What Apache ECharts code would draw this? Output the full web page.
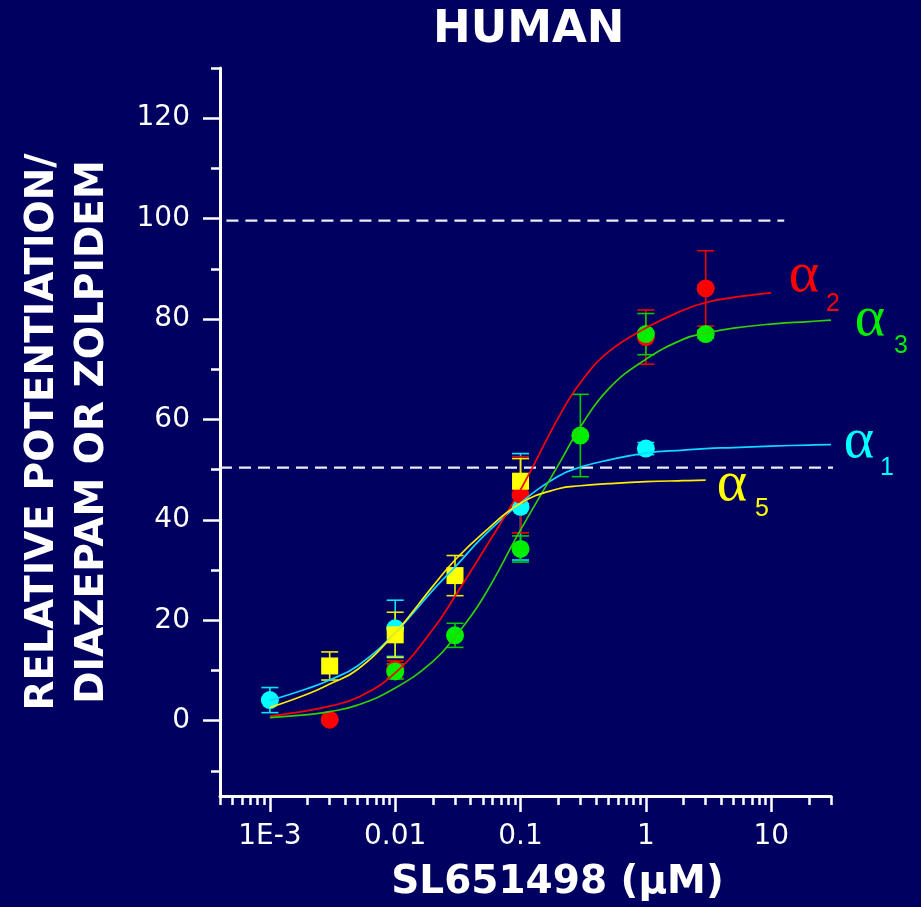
<!DOCTYPE html>
<html>
<head>
<meta charset="utf-8">
<title>HUMAN</title>
<script src="https://cdn.jsdelivr.net/npm/echarts@6/dist/echarts.min.js"></script>
<style>
html, body { margin: 0; padding: 0; background: #000060; }
#chart { width: 921px; height: 907px; }
</style>
</head>
<body>
<div id="chart"></div>
<script>
// measured points (SL651498 conc in uM, mean, s.e.m.)
var a1Conc = [0.001, 0.01, 0.1, 1];
var a1Mean = [4.1, 18.4, 42.6, 54.2];
var a1Err  = [2.5, 5.6, 10.6, 1.2];

var a2Conc = [0.003, 0.01, 0.1, 1, 3];
var a2Mean = [0.2, 10.2, 45.0, 76.4, 86.1];
var a2Err  = [0, 1.7, 7.6, 5.4, 7.5];

var a3Conc = [0.01, 0.03, 0.1, 0.3, 1, 3];
var a3Mean = [9.8, 17.0, 34.2, 56.8, 77.0, 77.0];
var a3Err  = [1.5, 2.4, 2.6, 8.2, 4.1, 0.8];

var a5Conc = [0.003, 0.01, 0.03, 0.1];
var a5Mean = [10.9, 17.1, 28.9, 47.7];
var a5Err  = [2.8, 4.5, 4.0, 4.5];

// fitted curves
var fitConc = [0.001, 0.002, 0.003, 0.005, 0.01, 0.02, 0.03, 0.05, 0.1, 0.2, 0.3, 0.5, 1, 2, 3, 5, 10, 20, 30];
var a1Fit = [4.0, 6.4, 8.1, 10.9, 17.5, 26.0, 30.6, 36.6, 43.4, 48.7, 50.5, 51.9, 53.3, 53.9, 54.2, 54.4, 54.7, 54.9, 55.0];
var a2Fit = [0.9, 2.0, 2.9, 4.6, 9.5, 18.2, 24.8, 33.6, 46.0, 60.3, 67.3, 73.4, 78.2, 81.8, 83.3, 84.3, 85.2];
var a3Fit = [0.6, 1.2, 1.8, 3.1, 6.5, 11.8, 16.7, 24.4, 38.0, 50.9, 58.5, 66.0, 72.0, 76.0, 77.2, 78.2, 79.0, 79.5, 79.8];
var a5Fit = [2.6, 5.3, 7.3, 10.2, 17.5, 26.8, 32.0, 37.3, 43.3, 46.2, 46.8, 47.2, 47.6, 47.8, 47.9];

// dashed reference levels
var ref100 = { conc: [0.00045, 12.7], level: 99.6 };
var ref50  = { conc: [0.0004, 68], level: 50.4 };

// axis ticks
var xMajorTicks = [0.001, 0.01, 0.1, 1, 10];
var xTickLabels = ['1E-3', '0.01', '0.1', '1', '10'];
var xMinorTicks = [0.0004, 0.0005, 0.0006, 0.0007, 0.0008, 0.0009,
    0.002, 0.003, 0.004, 0.005, 0.006, 0.007, 0.008, 0.009,
    0.02, 0.03, 0.04, 0.05, 0.06, 0.07, 0.08, 0.09,
    0.2, 0.3, 0.4, 0.5, 0.6, 0.7, 0.8, 0.9,
    2, 3, 4, 5, 6, 7, 8, 9, 20, 30];
var yMajorTicks = [0, 20, 40, 60, 80, 100, 120];
var yMinorTicks = [-10, 10, 30, 50, 70, 90, 110, 130];

var subtypes = ['1', '2', '3', '5'];

function pairs(xs, ys) {
    return xs.map(function (x, i) { return [x, ys[i]]; }).filter(function (p) { return p[1] != null; });
}
function bars(xs, ys, es) {
    return xs.map(function (x, i) { return [x, ys[i] - es[i], ys[i] + es[i]]; });
}

var white = '#ffffff';
var fontNum = 'DejaVu Sans';

function errorBar(params, api) {
    var x = api.value(0);
    var lo = api.coord([x, api.value(1)]);
    var hi = api.coord([x, api.value(2)]);
    var half = 8.5;
    var style = { stroke: api.visual('color'), lineWidth: 1.6 };
    return {
        type: 'group',
        children: [
            { type: 'line', shape: { x1: hi[0], y1: hi[1], x2: lo[0], y2: lo[1] }, style: style },
            { type: 'line', shape: { x1: hi[0] - half, y1: hi[1], x2: hi[0] + half, y2: hi[1] }, style: style },
            { type: 'line', shape: { x1: lo[0] - half, y1: lo[1], x2: lo[0] + half, y2: lo[1] }, style: style }
        ]
    };
}

function fitLine(name, data, color) {
    return {
        name: name, type: 'line', data: data, smooth: 0.45,
        symbol: 'none', silent: true,
        lineStyle: { color: color, width: 1.7 }
    };
}
function errSeries(name, data, color) {
    return {
        name: name, type: 'custom', renderItem: errorBar, data: data,
        encode: { x: 0, y: [1, 2] }, itemStyle: { color: color }, silent: true
    };
}
function pointSeries(name, data, color, symbol, size) {
    return {
        name: name, type: 'scatter', data: data, symbol: symbol, symbolSize: size,
        itemStyle: { color: color, opacity: 1 }
    };
}
function refLine(ref) {
    return {
        type: 'line', data: ref.conc.map(function (c) { return [c, ref.level]; }),
        symbol: 'none', silent: true, clip: false,
        lineStyle: { color: '#ececf8', width: 2.2, type: [12, 7] }
    };
}

function label(text, x, y, color, size, family) {
    return {
        type: 'text', x: x, y: y,
        style: { text: text, fill: color, font: size + 'px "' + family + '"', textAlign: 'center', textVerticalAlign: 'middle' }
    };
}

var chart = echarts.init(document.getElementById('chart'));
var option = {
    backgroundColor: '#000060',
    animation: false,
    title: {
        text: 'HUMAN', left: 433, top: 8, padding: 0,
        textStyle: { color: white, fontFamily: fontNum, fontWeight: 'bold', fontSize: 45 }
    },
    grid: { left: 220, right: 90, top: 68, bottom: 109, containLabel: false },
    xAxis: [
        {
            type: 'log', logBase: 10, min: 0.0004, max: 30, position: 'bottom',
            name: 'SL651498 (μM)', nameLocation: 'middle', nameGap: 67,
            nameTextStyle: { color: white, fontFamily: fontNum, fontWeight: 'bold', fontSize: 39, padding: [0, 0, 0, 64] },
            axisLine: { onZero: false, lineStyle: { color: white, width: 3 } },
            axisTick: { customValues: xMajorTicks, length: 16, lineStyle: { color: white, width: 2.5 } },
            axisLabel: {
                customValues: xMajorTicks, color: white, fontFamily: fontNum, fontSize: 28, margin: 27,
                formatter: function (v) {
                    var best = 0;
                    xMajorTicks.forEach(function (t, i) {
                        if (Math.abs(Math.log10(t) - Math.log10(v)) < Math.abs(Math.log10(xMajorTicks[best]) - Math.log10(v))) best = i;
                    });
                    return xTickLabels[best];
                }
            },
            splitLine: { show: false }
        },
        {
            type: 'log', logBase: 10, min: 0.0004, max: 30, position: 'bottom', offset: 0,
            axisLine: { show: false, onZero: false },
            axisTick: { customValues: xMinorTicks, length: 9, lineStyle: { color: white, width: 2.5 } },
            axisLabel: { show: false },
            splitLine: { show: false }
        }
    ],
    yAxis: [
        {
            type: 'value', min: -15, max: 130, position: 'left',
            name: 'RELATIVE POTENTIATION/\nDIAZEPAM OR ZOLPIDEM',
            nameLocation: 'middle', nameRotate: 90, nameGap: 102,
            nameTextStyle: { color: white, fontFamily: fontNum, fontWeight: 'bold', fontSize: 39, lineHeight: 50 },
            axisLine: { show: true, onZero: false, lineStyle: { color: white, width: 3 } },
            axisTick: { show: true, customValues: yMajorTicks, length: 17, lineStyle: { color: white, width: 2.5 } },
            axisLabel: { customValues: yMajorTicks, color: white, fontFamily: fontNum, fontSize: 28, margin: 30 },
            splitLine: { show: false }
        },
        {
            type: 'value', min: -15, max: 130, position: 'left', offset: 0,
            axisLine: { show: false, onZero: false },
            axisTick: { show: true, customValues: yMinorTicks, length: 9, lineStyle: { color: white, width: 2.5 } },
            axisLabel: { show: false },
            splitLine: { show: false }
        }
    ],
    graphic: [
        label('α', 804, 276, '#ff0000', 58, 'Liberation Serif'),
        label(subtypes[1], 833, 304, '#ff0000', 25, 'Liberation Sans'),
        label('α', 870, 320, '#00ee00', 58, 'Liberation Serif'),
        label(subtypes[2], 901, 346, '#00ee00', 25, 'Liberation Sans'),
        label('α', 859, 442, '#00ffff', 58, 'Liberation Serif'),
        label(subtypes[0], 887, 468, '#00ffff', 25, 'Liberation Sans'),
        label('α', 732, 485, '#ffff00', 58, 'Liberation Serif'),
        label(subtypes[3], 762, 509, '#ffff00', 25, 'Liberation Sans')
    ],
    series: [
        refLine(ref100),
        refLine(ref50),
        fitLine('α1 fit', pairs(fitConc, a1Fit), '#10d8ff'),
        fitLine('α2 fit', pairs(fitConc, a2Fit), '#ff0000'),
        fitLine('α3 fit', pairs(fitConc, a3Fit), '#30d000'),
        fitLine('α5 fit', pairs(fitConc, a5Fit), '#ffee00'),
        errSeries('α1 sem', bars(a1Conc, a1Mean, a1Err), '#00e8ff'),
        pointSeries('α1', pairs(a1Conc, a1Mean), '#00ffff', 'circle', 18),
        errSeries('α2 sem', bars(a2Conc, a2Mean, a2Err), '#ee0000'),
        pointSeries('α2', pairs(a2Conc, a2Mean), '#ff0000', 'circle', 18),
        errSeries('α3 sem', bars(a3Conc, a3Mean, a3Err), '#00cc00'),
        pointSeries('α3', pairs(a3Conc, a3Mean), '#00ee00', 'circle', 18),
        errSeries('α5 sem', bars(a5Conc, a5Mean, a5Err), '#eeee00'),
        pointSeries('α5', pairs(a5Conc, a5Mean), '#ffff00', 'rect', 17)
    ]
};
chart.setOption(option);
window.onresize = chart.resize;
</script>
</body>
</html>
